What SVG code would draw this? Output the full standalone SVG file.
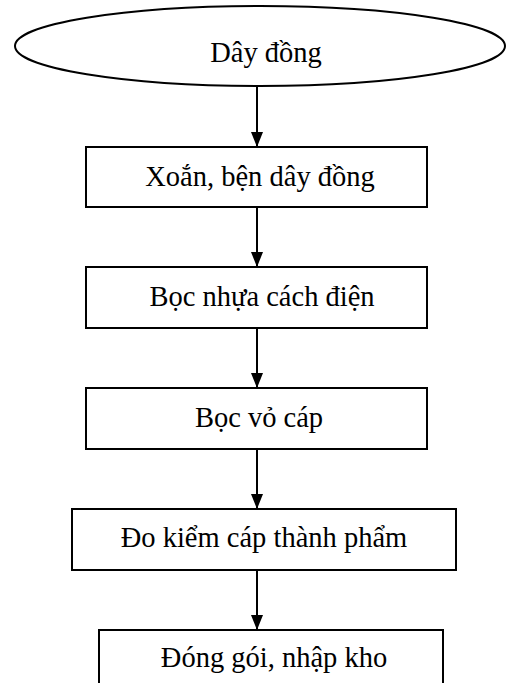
<svg xmlns="http://www.w3.org/2000/svg" width="506" height="683" viewBox="0 0 506 683">
<defs>
<marker id="ah" markerWidth="15" markerHeight="12" refX="15" refY="6" orient="auto" markerUnits="userSpaceOnUse" viewBox="0 0 15 12">
<path d="M0,0 L15,6 L0,12 Z" fill="#000"/>
</marker>
</defs>
<style>
.n{fill:#fff;stroke:#000;stroke-width:2}
.t{font-family:"Liberation Serif","Times New Roman",serif;font-size:28.5px;fill:#000;text-anchor:middle}
.c{stroke:#000;stroke-width:2;fill:none}
</style>
<rect width="506" height="683" fill="#fff"/>
<g id="n0"><ellipse class="n" cx="260" cy="46" rx="245" ry="40"/><text class="t" x="266" y="62">Dây đồng</text></g>
<g id="n1"><rect class="n" x="86" y="147" width="341" height="60"/><text class="t" x="260" y="186">Xoắn, bện dây đồng</text></g>
<g id="n2"><rect class="n" x="86" y="267" width="341" height="61"/><text class="t" x="262" y="306">Bọc nhựa cách điện</text></g>
<g id="n3"><rect class="n" x="86" y="388" width="341" height="61"/><text class="t" x="259" y="427">Bọc vỏ cáp</text></g>
<g id="n4"><rect class="n" x="72" y="509" width="384" height="61"/><text class="t" x="264" y="547">Đo kiểm cáp thành phẩm</text></g>
<g id="n5"><rect class="n" x="99" y="630" width="344" height="70"/><text class="t" x="274" y="667">Đóng gói, nhập kho</text></g>
<g id="edges">
<line class="c" x1="257" y1="86" x2="257" y2="147" marker-end="url(#ah)"/>
<line class="c" x1="257" y1="207" x2="257" y2="267" marker-end="url(#ah)"/>
<line class="c" x1="257" y1="328" x2="257" y2="388" marker-end="url(#ah)"/>
<line class="c" x1="257" y1="449" x2="257" y2="509" marker-end="url(#ah)"/>
<line class="c" x1="257" y1="570" x2="257" y2="630" marker-end="url(#ah)"/>
</g>
</svg>
